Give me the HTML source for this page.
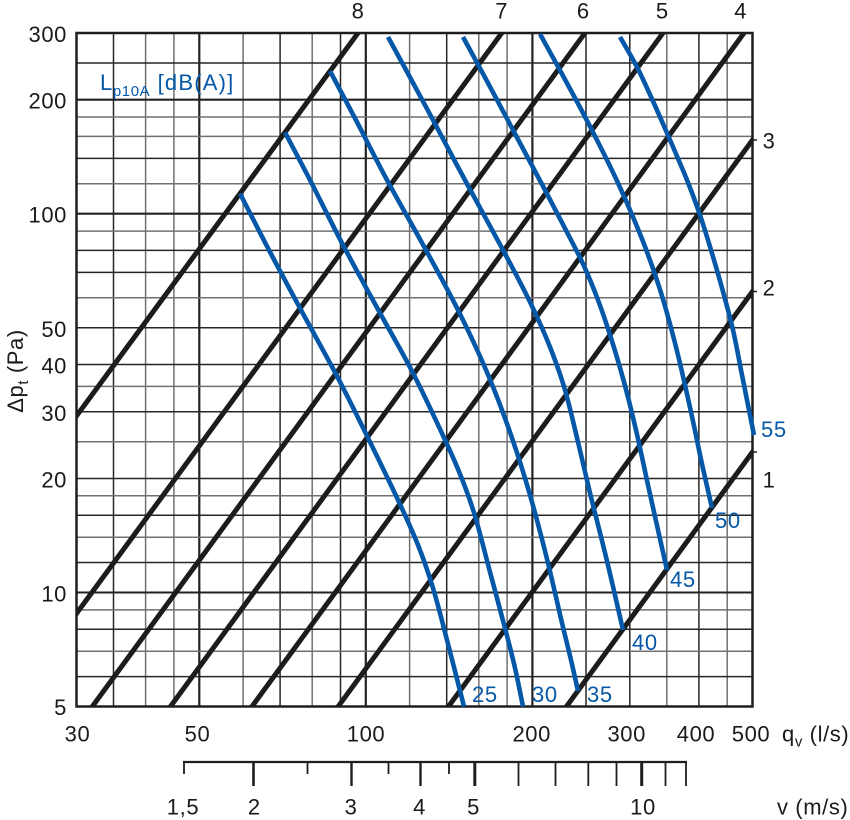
<!DOCTYPE html>
<html>
<head>
<meta charset="utf-8">
<style>
  html, body { margin: 0; padding: 0; background: #ffffff; }
  svg { display: block; }
  text { font-family: "Liberation Sans", Arial, Helvetica, sans-serif; font-size: 22px; fill: #1a1a1a; letter-spacing: 0.6px; }
  .blue { fill: #0558a8; }
</style>
</head>
<body>
<svg width="850" height="820" viewBox="0 0 850 820" xmlns="http://www.w3.org/2000/svg">
  <defs>
    <clipPath id="frame">
      <rect x="76.5" y="33" width="676" height="673.5"/>
    </clipPath>
  </defs>
  <rect x="0" y="0" width="850" height="820" fill="#ffffff"/>

  <!-- vertical grid -->
  <g stroke-width="1.5">
    <line x1="113.5" y1="33" x2="113.5" y2="706.5" stroke="#262626"/>
    <line x1="145.6" y1="33" x2="145.6" y2="706.5" stroke="#707070"/>
    <line x1="173.9" y1="33" x2="173.9" y2="706.5" stroke="#707070"/>
    <line x1="199.3" y1="33" x2="199.3" y2="706.5" stroke="#222" stroke-width="2.2"/>
    <line x1="243.1" y1="33" x2="243.1" y2="706.5" stroke="#707070"/>
    <line x1="280.1" y1="33" x2="280.1" y2="706.5" stroke="#262626"/>
    <line x1="312.2" y1="33" x2="312.2" y2="706.5" stroke="#707070"/>
    <line x1="340.5" y1="33" x2="340.5" y2="706.5" stroke="#262626"/>
    <line x1="365.8" y1="33" x2="365.8" y2="706.5" stroke="#222" stroke-width="2.2"/>
    <line x1="409.6" y1="33" x2="409.6" y2="706.5" stroke="#707070"/>
    <line x1="446.7" y1="33" x2="446.7" y2="706.5" stroke="#262626"/>
    <line x1="478.8" y1="33" x2="478.8" y2="706.5" stroke="#707070"/>
    <line x1="507.1" y1="33" x2="507.1" y2="706.5" stroke="#707070"/>
    <line x1="532.4" y1="33" x2="532.4" y2="706.5" stroke="#222" stroke-width="2.2"/>
    <line x1="586.0" y1="33" x2="586.0" y2="706.5" stroke="#262626"/>
    <line x1="629.8" y1="33" x2="629.8" y2="706.5" stroke="#262626"/>
    <line x1="666.8" y1="33" x2="666.8" y2="706.5" stroke="#707070"/>
    <line x1="698.9" y1="33" x2="698.9" y2="706.5" stroke="#262626"/>
    <line x1="727.2" y1="33" x2="727.2" y2="706.5" stroke="#707070"/>
  </g>

  <!-- horizontal grid -->
  <g stroke-width="1.5">
    <line x1="76.5" y1="63.0" x2="752.5" y2="63.0" stroke="#262626"/>
    <line x1="76.5" y1="99.7" x2="752.5" y2="99.7" stroke="#222" stroke-width="2.2"/>
    <line x1="76.5" y1="117.0" x2="752.5" y2="117.0" stroke="#707070"/>
    <line x1="76.5" y1="136.4" x2="752.5" y2="136.4" stroke="#707070"/>
    <line x1="76.5" y1="158.4" x2="752.5" y2="158.4" stroke="#262626"/>
    <line x1="76.5" y1="183.7" x2="752.5" y2="183.7" stroke="#707070"/>
    <line x1="76.5" y1="213.7" x2="752.5" y2="213.7" stroke="#222" stroke-width="2.2"/>
    <line x1="76.5" y1="231.1" x2="752.5" y2="231.1" stroke="#707070"/>
    <line x1="76.5" y1="250.4" x2="752.5" y2="250.4" stroke="#262626"/>
    <line x1="76.5" y1="272.4" x2="752.5" y2="272.4" stroke="#262626"/>
    <line x1="76.5" y1="297.8" x2="752.5" y2="297.8" stroke="#707070"/>
    <line x1="76.5" y1="327.8" x2="752.5" y2="327.8" stroke="#262626"/>
    <line x1="76.5" y1="364.5" x2="752.5" y2="364.5" stroke="#262626"/>
    <line x1="76.5" y1="386.4" x2="752.5" y2="386.4" stroke="#707070"/>
    <line x1="76.5" y1="411.8" x2="752.5" y2="411.8" stroke="#262626"/>
    <line x1="76.5" y1="441.8" x2="752.5" y2="441.8" stroke="#707070"/>
    <line x1="76.5" y1="478.5" x2="752.5" y2="478.5" stroke="#262626"/>
    <line x1="76.5" y1="495.8" x2="752.5" y2="495.8" stroke="#707070"/>
    <line x1="76.5" y1="515.2" x2="752.5" y2="515.2" stroke="#262626"/>
    <line x1="76.5" y1="537.2" x2="752.5" y2="537.2" stroke="#707070"/>
    <line x1="76.5" y1="562.5" x2="752.5" y2="562.5" stroke="#262626"/>
    <line x1="76.5" y1="592.5" x2="752.5" y2="592.5" stroke="#222" stroke-width="2"/>
    <line x1="76.5" y1="609.9" x2="752.5" y2="609.9" stroke="#707070"/>
    <line x1="76.5" y1="629.2" x2="752.5" y2="629.2" stroke="#262626"/>
    <line x1="76.5" y1="651.2" x2="752.5" y2="651.2" stroke="#707070"/>
    <line x1="76.5" y1="676.6" x2="752.5" y2="676.6" stroke="#262626"/>
  </g>

  <!-- frame -->
  <rect x="76.5" y="33" width="676" height="673.5" fill="none" stroke="#1e1e1e" stroke-width="2.5"/>

  <!-- black system lines -->
  <g clip-path="url(#frame)" stroke="#1c1c1c" stroke-width="5" stroke-linecap="butt" fill="none">
    <line x1="70" y1="424.8" x2="362" y2="27.6"/>
    <line x1="70" y1="622.4" x2="506" y2="27.2"/>
    <line x1="88" y1="712.4" x2="589" y2="27.5"/>
    <line x1="166" y1="712.6" x2="667" y2="27.5"/>
    <line x1="247.6" y1="712.5" x2="748" y2="27.5"/>
    <line x1="334" y1="712.2" x2="756" y2="135.2"/>
    <line x1="444" y1="712.6" x2="756" y2="286.7"/>
    <line x1="562" y1="712.6" x2="756" y2="447.2"/>
  </g>
  <g stroke="#1c1c1c" stroke-width="1.5">
    <line x1="752.5" y1="140" x2="757" y2="140"/>
    <line x1="752.5" y1="291.5" x2="757" y2="291.5"/>
    <line x1="752.5" y1="452" x2="757" y2="452"/>
  </g>

  <!-- blue Lp10A curves -->
  <g id="bluecurves" stroke="#0558a8" stroke-width="4.6" fill="none" stroke-linejoin="round" stroke-linecap="butt">
    <polyline points="240,193.5 270,252 301,310 338,378 370,442 398,500 418,545 433,588 447,640 456,675 464,706.5"/>
    <polyline points="285,132.5 310,180 343,245 380,313 413,373 446,442 462,479 475,516 490,572 506,632 515,668 523,706.5"/>
    <polyline points="330,71 358,124 387,180 427,252 460,314 489,377 512,438 530,495 547,559 562,623 571,660 578,691"/>
    <polyline points="388,37 412,81 433,120 466,182 503,250 530,302 550,347 565,390 578,442 590,493 607,561 623,630"/>
    <polyline points="463,37 488,83 513,130 545,190 570,238 584,266 598,300 611,338 624,382 636,430 648,485 658,530 667,570"/>
    <polyline points="540,34 562,74 583,113 602,150 618,183 633,217 647,252 662,296 677,351 691,412 702,464 712,508"/>
    <polyline points="620,37 637,67 652,99 667,133 687,180 700,215 711,250 722,288 733,330 742,375 749,410 754,435"/>
  </g>

  <!-- legend -->
  <text x="100" y="90" class="blue">L<tspan font-size="15" dy="6">p10A</tspan><tspan dy="-6" letter-spacing="1.2"> [dB(A)]</tspan></text>

  <!-- curve labels -->
  <text x="472" y="702" class="blue">25</text>
  <text x="532" y="702" class="blue">30</text>
  <text x="587" y="702" class="blue">35</text>
  <text x="632" y="650" class="blue">40</text>
  <text x="670" y="587" class="blue">45</text>
  <text x="715" y="528" class="blue">50</text>
  <text x="761" y="437" class="blue">55</text>

  <!-- system line labels -->
  <text x="358" y="18.5" text-anchor="middle">8</text>
  <text x="501.7" y="18.5" text-anchor="middle">7</text>
  <text x="583.3" y="18.5" text-anchor="middle">6</text>
  <text x="662.3" y="18.5" text-anchor="middle">5</text>
  <text x="740.7" y="18.5" text-anchor="middle">4</text>
  <text x="769" y="148.3" text-anchor="middle">3</text>
  <text x="769" y="295.5" text-anchor="middle">2</text>
  <text x="769" y="487.3" text-anchor="middle">1</text>

  <!-- y tick labels -->
  <g text-anchor="end">
    <text x="67" y="42">300</text>
    <text x="67" y="108.5">200</text>
    <text x="67" y="222.5">100</text>
    <text x="67" y="337">50</text>
    <text x="67" y="373.5">40</text>
    <text x="67" y="421">30</text>
    <text x="67" y="487.5">20</text>
    <text x="67" y="601.5">10</text>
    <text x="67" y="715">5</text>
  </g>

  <!-- y axis title -->
  <text transform="translate(23,371) rotate(-90)" text-anchor="middle">Δp<tspan font-size="15" dy="5">t</tspan><tspan dy="-5"> (Pa)</tspan></text>

  <!-- x tick labels -->
  <g text-anchor="middle">
    <text x="77.5" y="741.5">30</text>
    <text x="197.5" y="741.5">50</text>
    <text x="366" y="741.5">100</text>
    <text x="531.7" y="741.5">200</text>
    <text x="626.7" y="741.5">300</text>
    <text x="696" y="741.5">400</text>
    <text x="751" y="741.5">500</text>
  </g>
  <text x="782" y="741.5">q<tspan font-size="15" dy="5">v</tspan><tspan dy="-5"> (l/s)</tspan></text>

  <!-- velocity axis -->
  <g stroke="#1e1e1e" stroke-width="1.8">
    <line x1="183" y1="762" x2="687" y2="762" stroke-width="2.2"/>
    <line x1="184" y1="762" x2="184" y2="774"/>
    <line x1="253.5" y1="762" x2="253.5" y2="786" stroke-width="2.6"/>
    <line x1="307.5" y1="762" x2="307.5" y2="774"/>
    <line x1="351.5" y1="762" x2="351.5" y2="786" stroke-width="2.4"/>
    <line x1="388.5" y1="762" x2="388.5" y2="774"/>
    <line x1="420.5" y1="762" x2="420.5" y2="786" stroke-width="2.4"/>
    <line x1="449" y1="762" x2="449" y2="774"/>
    <line x1="474.8" y1="762" x2="474.8" y2="786" stroke-width="3"/>
    <line x1="518.5" y1="762" x2="518.5" y2="786"/>
    <line x1="555.5" y1="762" x2="555.5" y2="786"/>
    <line x1="588.3" y1="762" x2="588.3" y2="786"/>
    <line x1="616.5" y1="762" x2="616.5" y2="786"/>
    <line x1="641.7" y1="762" x2="641.7" y2="786" stroke-width="3"/>
    <line x1="665.5" y1="762" x2="665.5" y2="786"/>
    <line x1="686" y1="762" x2="686" y2="786"/>
  </g>
  <g text-anchor="middle">
    <text x="183" y="814.5">1,5</text>
    <text x="254.3" y="814.5">2</text>
    <text x="351" y="814.5">3</text>
    <text x="419.5" y="814.5">4</text>
    <text x="473.5" y="814.5">5</text>
    <text x="643" y="814.5">10</text>
  </g>
  <text x="777" y="814.5">v (m/s)</text>
</svg>
<script>
(function(){
  var g = document.getElementById('bluecurves');
  if (!g) return;
  var pls = g.querySelectorAll('polyline');
  for (var k = 0; k < pls.length; k++) {
    var pl = pls[k];
    var raw = pl.getAttribute('points').trim().split(/\s+/);
    var P = raw.map(function(s){ var a = s.split(','); return [parseFloat(a[0]), parseFloat(a[1])]; });
    if (P.length < 3) continue;
    var d = 'M' + P[0][0] + ',' + P[0][1];
    for (var i = 0; i < P.length - 1; i++) {
      var p0 = P[i === 0 ? 0 : i - 1], p1 = P[i], p2 = P[i + 1], p3 = P[i + 2 < P.length ? i + 2 : P.length - 1];
      var c1x = p1[0] + (p2[0] - p0[0]) / 6, c1y = p1[1] + (p2[1] - p0[1]) / 6;
      var c2x = p2[0] - (p3[0] - p1[0]) / 6, c2y = p2[1] - (p3[1] - p1[1]) / 6;
      d += ' C' + c1x.toFixed(2) + ',' + c1y.toFixed(2) + ' ' + c2x.toFixed(2) + ',' + c2y.toFixed(2) + ' ' + p2[0] + ',' + p2[1];
    }
    var path = document.createElementNS('http://www.w3.org/2000/svg', 'path');
    path.setAttribute('d', d);
    g.replaceChild(path, pl);
  }
})();
</script>
</body>
</html>
